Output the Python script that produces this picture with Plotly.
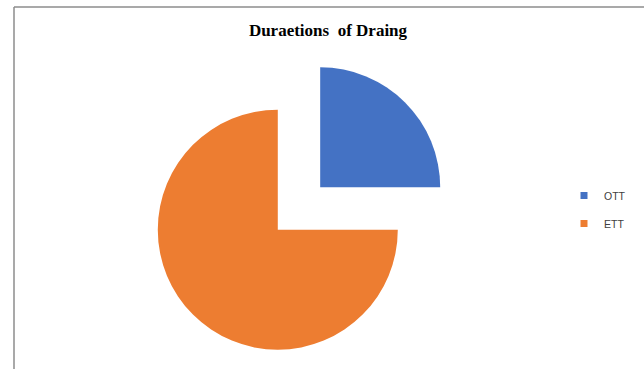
import plotly.graph_objects as go

# Duration shares
categories = ["OTT", "ETT"]
values = [25, 75]
colors = ["#4472C4", "#ED7D31"]
pulls = [0.25, 0.25]

W, H = 644, 369

fig = go.Figure()

# Pie centred at (299, 208.5) px with a 300 px square box
cx, cy, half = 299, 208.5, 150
fig.add_trace(go.Pie(
    labels=categories,
    values=values,
    marker=dict(colors=colors, line=dict(width=0)),
    pull=pulls,
    sort=False,
    direction="clockwise",
    rotation=0,
    textinfo="none",
    hoverinfo="label+percent",
    showlegend=False,
    domain=dict(x=[(cx - half) / W, (cx + half) / W],
                y=[(H - cy - half) / H, (H - cy + half) / H]),
))

# Legend entries with square swatches
for i, (name, col) in enumerate(zip(categories, colors)):
    fig.add_trace(go.Scatter(
        x=[None], y=[None], mode="markers", name=name,
        legendgroup=f"g{i}",
        marker=dict(symbol="square", size=7, color=col),
        hoverinfo="skip",
    ))

fig.update_layout(
    width=W, height=H,
    margin=dict(l=0, r=0, t=0, b=0),
    paper_bgcolor="white",
    plot_bgcolor="white",
    xaxis=dict(visible=False),
    yaxis=dict(visible=False),
    title=dict(
        text="<b>Duraetions  of Draing</b>",
        font=dict(family="Liberation Serif", size=17, color="#000000"),
        x=328 / W, xanchor="center",
        y=1 - 30 / H, yanchor="middle",
    ),
    legend=dict(
        x=(600 - 36) / W, xanchor="left",
        y=1 - 181 / H, yanchor="top",
        traceorder="grouped",
        tracegroupgap=9,
        font=dict(family="Liberation Sans", size=10.5, color="#404040"),
        bgcolor="rgba(0,0,0,0)",
    ),
    shapes=[
        dict(type="line", xref="paper", yref="paper",
             x0=14 / W, x1=1, y0=1 - 7 / H, y1=1 - 7 / H,
             line=dict(color="#8C8C8C", width=1.5)),
        dict(type="line", xref="paper", yref="paper",
             x0=14 / W, x1=14 / W, y0=0, y1=1 - 7 / H,
             line=dict(color="#8C8C8C", width=1.5)),
    ],
)

fig.write_html("out.html")
